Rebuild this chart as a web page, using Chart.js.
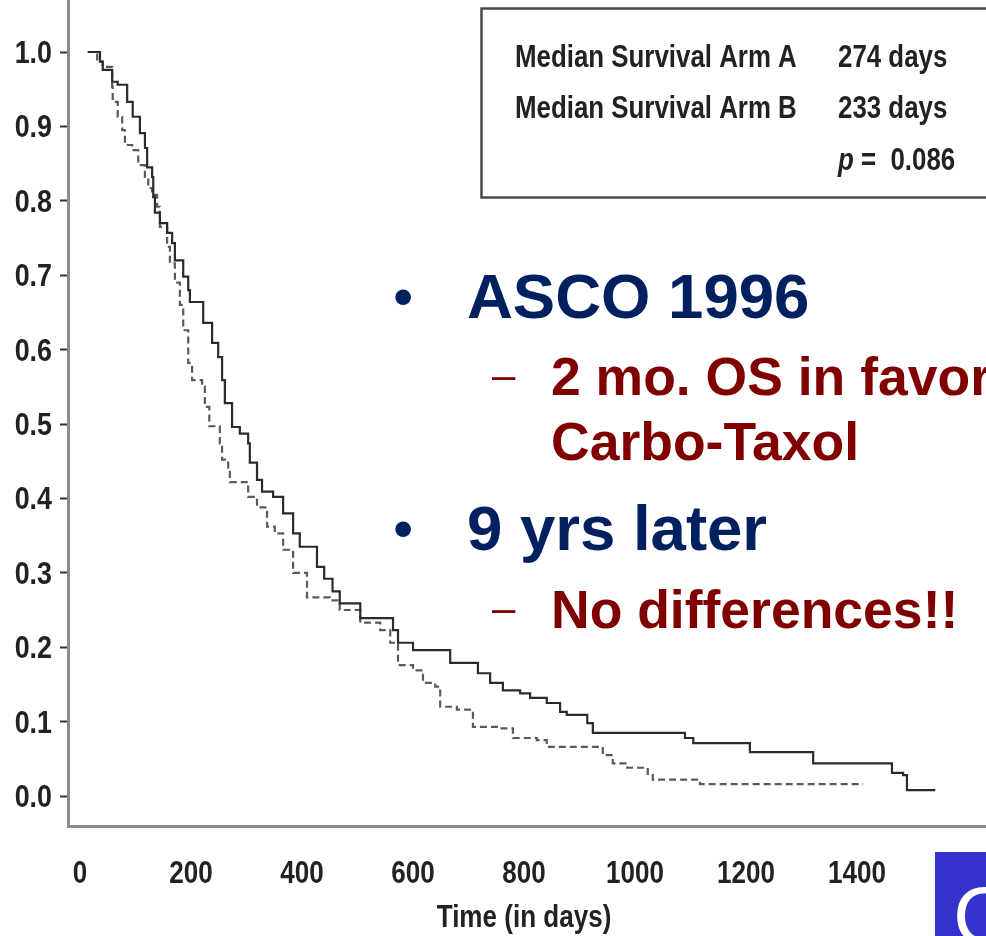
<!DOCTYPE html>
<html>
<head>
<meta charset="utf-8">
<script src="https://cdn.jsdelivr.net/npm/chart.js@4.4.1/dist/chart.umd.min.js"></script>
<style>
  html, body { margin: 0; padding: 0; background: #fff; }
  #wrap { width: 986px; height: 936px; position: relative; }
</style>
</head>
<body>
<div id="wrap"><canvas id="c"></canvas></div>
<script>
// Kaplan-Meier overall survival, two treatment arms (days, survival fraction)
const armADays = [14, 36, 41, 58, 68, 85, 95, 108, 117, 121, 130, 132, 135, 144, 157, 166, 171, 186, 195, 198,
  222, 238, 249, 256, 261, 274, 288, 303, 306, 319, 328, 348, 366, 384, 396, 427, 440, 455, 468, 505,
  564, 573, 600, 667, 717, 739, 762, 793, 811, 841, 865, 877, 914, 924, 1090, 1105, 1207, 1321, 1463, 1483,
  1490, 1541];
const armASurv = [1.0, 0.987, 0.976, 0.960, 0.956, 0.933, 0.913, 0.891, 0.871, 0.845, 0.832, 0.805, 0.784, 0.770, 0.757, 0.743, 0.720, 0.698, 0.680, 0.664,
  0.636, 0.609, 0.590, 0.559, 0.528, 0.496, 0.487, 0.474, 0.448, 0.425, 0.409, 0.402, 0.380, 0.353, 0.335, 0.308, 0.292, 0.275, 0.259, 0.239,
  0.223, 0.206, 0.196, 0.179, 0.165, 0.152, 0.142, 0.138, 0.132, 0.125, 0.113, 0.109, 0.098, 0.085, 0.078, 0.071, 0.059, 0.044, 0.031, 0.028,
  0.008, 0.008];

const armBDays = [14, 31, 41, 58, 59, 68, 76, 81, 94, 105, 117, 123, 130, 139, 144, 157, 162, 171, 180, 186,
  195, 202, 220, 225, 233, 252, 256, 267, 270, 303, 319, 337, 351, 366, 384, 409, 450, 468, 505, 541,
  559, 573, 600, 618, 640, 649, 679, 708, 757, 780, 823, 841, 942, 960, 986, 1023, 1032, 1117, 1411];
const armBSurv = [1.0, 0.987, 0.980, 0.953, 0.933, 0.913, 0.895, 0.875, 0.868, 0.848, 0.832, 0.817, 0.808, 0.792, 0.765, 0.738, 0.716, 0.690, 0.660, 0.626,
  0.582, 0.559, 0.550, 0.523, 0.497, 0.474, 0.452, 0.438, 0.422, 0.402, 0.388, 0.362, 0.353, 0.331, 0.300, 0.267, 0.263, 0.250, 0.233, 0.223,
  0.206, 0.176, 0.169, 0.152, 0.147, 0.120, 0.116, 0.093, 0.091, 0.078, 0.075, 0.066, 0.055, 0.044, 0.038, 0.028, 0.022, 0.016, 0.016];

const xTickValues = [0, 200, 400, 600, 800, 1000, 1200, 1400];
const yTickValues = [0, 0.1, 0.2, 0.3, 0.4, 0.5, 0.6, 0.7, 0.8, 0.9, 1.0];
const xAxisTitle = 'Time (in days)';

const medianLabels = ['Median Survival Arm A', 'Median Survival Arm B'];
const medianValues = ['274 days', '233 days'];
const pValueText = '0.086';

const bulletHeads = ['ASCO 1996', '9 yrs later'];
const bulletSubs = [['2 mo. OS in favor', 'Carbo-Taxol'], ['No differences!!']];

const SANS = "'Liberation Sans', Arial, sans-serif";
const CONDENSE = 0.84;   // horizontal squeeze for the condensed figure lettering

const toPoints = (xs, ys) => xs.map((x, i) => ({ x: x, y: ys[i] }));

// draw text horizontally condensed, anchored at (x, y) on the alphabetic baseline
function narrowText(ctx, text, x, y, font, align) {
  ctx.save();
  ctx.font = font;
  ctx.textBaseline = 'alphabetic';
  const w = ctx.measureText(text).width * CONDENSE;
  let left = x;
  if (align === 'center') left = x - w / 2;
  else if (align === 'right') left = x - w;
  ctx.translate(left, y);
  ctx.scale(CONDENSE, 1);
  ctx.textAlign = 'left';
  ctx.fillText(text, 0, 0);
  ctx.restore();
  return w;
}

const axisLabels = {
  id: 'axisLabels',
  afterDraw(chart) {
    const ctx = chart.ctx;
    const xs = chart.scales.x, ys = chart.scales.y;
    ctx.save();
    ctx.fillStyle = '#222';
    xTickValues.forEach(v => {
      narrowText(ctx, String(v), xs.getPixelForValue(v), 883, 'bold 31px ' + SANS, 'center');
    });
    yTickValues.forEach(v => {
      narrowText(ctx, v.toFixed(1), 52, ys.getPixelForValue(v) + 11, 'bold 32px ' + SANS, 'right');
    });
    narrowText(ctx, xAxisTitle, (chart.chartArea.left + chart.chartArea.right) / 2 - 3, 927, 'bold 31px ' + SANS, 'center');
    ctx.restore();
  }
};

const overlay = {
  id: 'overlay',
  afterDraw(chart) {
    const ctx = chart.ctx;
    ctx.save();

    // statistics box
    ctx.strokeStyle = '#4a4a4a';
    ctx.lineWidth = 2.5;
    ctx.strokeRect(481.5, 8.5, 530, 189);
    ctx.fillStyle = '#222';
    const boxFont = 'bold 30.8px ' + SANS;
    medianLabels.forEach((t, i) => {
      narrowText(ctx, t, 515, 67 + i * 51, boxFont, 'left');
      narrowText(ctx, medianValues[i], 838, 67 + i * 51, boxFont, 'left');
    });
    const pw = narrowText(ctx, 'p', 838, 170, 'italic bold 30.8px ' + SANS, 'left');
    narrowText(ctx, ' =  ' + pValueText, 838 + pw, 170, boxFont, 'left');

    // slide bullets
    ctx.textBaseline = 'alphabetic';
    ctx.textAlign = 'left';
    const heads = [318, 550];
    const subs = [[395, 460], [628]];
    bulletHeads.forEach((h, i) => {
      ctx.fillStyle = '#002060';
      ctx.font = '58px ' + SANS;
      ctx.fillText('\u2022', 393, heads[i] - 2);
      ctx.font = 'bold 63.5px ' + SANS;
      ctx.fillText(h, 467, heads[i]);
      bulletSubs[i].forEach((s, j) => {
        ctx.fillStyle = '#800000';
        if (j === 0) {
          ctx.font = '42px ' + SANS;
          ctx.fillText('\u2013', 492, subs[i][j] - 6);
        }
        ctx.font = 'bold 53.5px ' + SANS;
        ctx.fillText(s, 551, subs[i][j]);
      });
    });

    // corner tab
    ctx.fillStyle = '#3333cc';
    ctx.fillRect(935, 852, 60, 90);
    ctx.beginPath();
    ctx.rect(935, 852, 60, 90);
    ctx.clip();
    ctx.fillStyle = '#ffffff';
    ctx.font = '82px ' + SANS;
    ctx.fillText('C', 953, 944);
    ctx.restore();
  }
};

new Chart(document.getElementById('c'), {
  type: 'line',
  data: {
    datasets: [
      {
        label: 'Arm A',
        data: toPoints(armADays, armASurv),
        stepped: true,
        borderColor: '#2b2b2b',
        borderWidth: 2.2,
        pointRadius: 0,
        fill: false
      },
      {
        label: 'Arm B',
        data: toPoints(armBDays, armBSurv),
        stepped: true,
        borderColor: '#5a5a5a',
        borderWidth: 2.2,
        borderDash: [7, 4],
        pointRadius: 0,
        fill: false
      }
    ]
  },
  options: {
    responsive: true,
    maintainAspectRatio: false,
    animation: false,
    devicePixelRatio: 1,
    layout: { padding: 0 },
    plugins: { legend: { display: false }, tooltip: { enabled: false } },
    scales: {
      x: {
        type: 'linear',
        min: -21.6,
        max: 1632.4,
        afterBuildTicks: s => { s.ticks = xTickValues.map(v => ({ value: v })); },
        afterFit: s => { s.height = 110; },
        grid: { drawOnChartArea: false, drawTicks: false },
        border: { color: '#8c8c8c', width: 3 },
        ticks: { display: false }
      },
      y: {
        type: 'linear',
        min: -0.0403,
        max: 1.0699,
        afterBuildTicks: s => { s.ticks = yTickValues.map(v => ({ value: v })); },
        afterFit: s => { s.width = 68; },
        grid: { drawOnChartArea: false, drawTicks: true, tickLength: 8, tickColor: '#333', tickWidth: 2 },
        border: { color: '#8c8c8c', width: 3 },
        ticks: { display: false }
      }
    }
  },
  plugins: [axisLabels, overlay]
});
</script>
</body>
</html>
